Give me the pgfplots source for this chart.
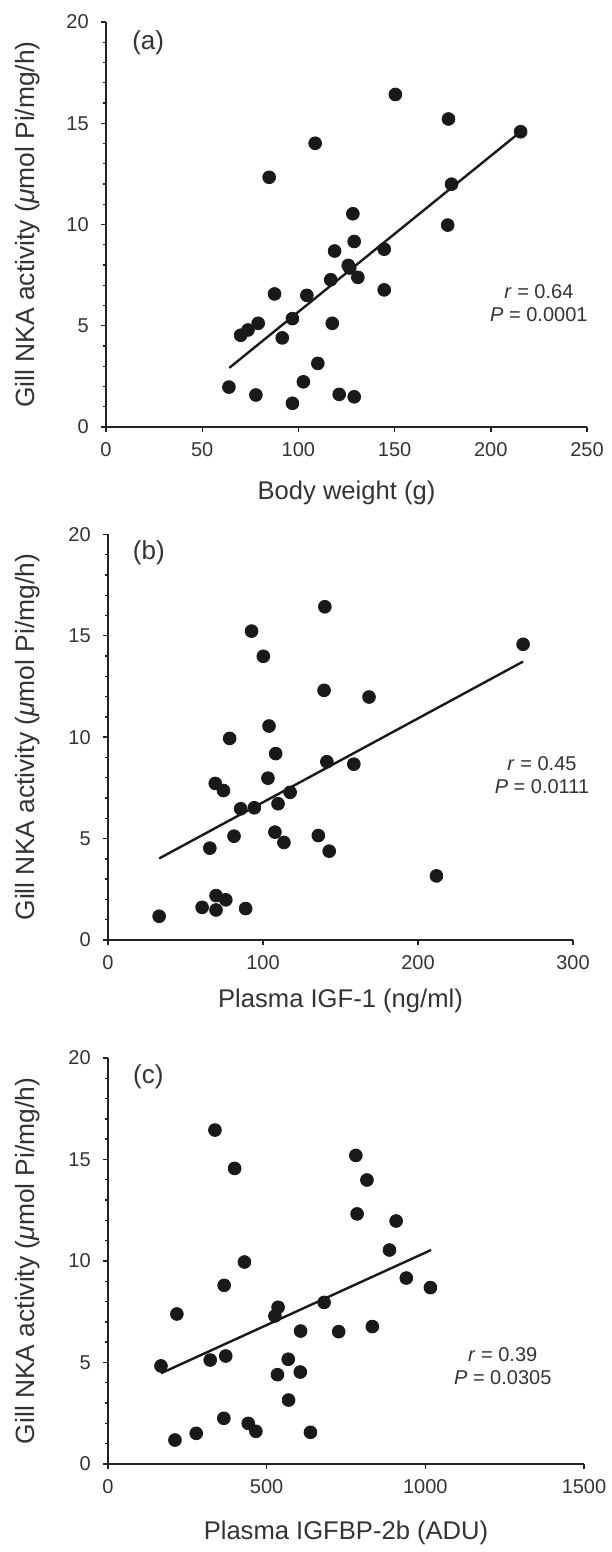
\documentclass[border=0pt]{standalone}
\usepackage{fontspec}
\setmainfont{Liberation Sans}
\usepackage{pgfplots}
\pgfplotsset{compat=1.18}
\definecolor{txt}{HTML}{333333}
\definecolor{ax}{HTML}{222222}
\pgfplotsset{
  panel/.style={
    scale only axis,
    axis lines*=left,
    axis line style={ax, line width=0.7pt},
    tick align=outside,
    major tick length=2.6pt,
    minor tick length=1.7pt,
    every tick/.style={ax, line width=0.7pt},
    ymin=0, ymax=20,
    ytick={0,5,10,15,20},
    minor y tick num=4,
    /pgf/number format/assume math mode=true,
    /pgf/number format/1000 sep={},
    tick label style={font=\fontsize{10}{12}\selectfont, text=txt},
    xticklabel style={yshift=-1.5pt},
    yticklabel style={xshift=-2.5pt},
    ylabel={Gill NKA activity (\textit{μ}mol Pi/mg/h)},
    clip=false,
  },
  dots/.style={only marks, mark=*, mark size=3.2pt, color=black!90},
  fit/.style={no marks, black!90, line width=1.2pt},
}
\begin{document}
\begin{tikzpicture}[x=1pt,y=1pt]
\useasboundingbox (0,0) rectangle (305.5,776);
% ---------- panel (a)
\begin{axis}[panel, at={(53pt,562.5pt)}, anchor=south west,
  width=240.5pt, height=202.5pt,
  xmin=0, xmax=250, xtick={0,50,100,150,200,250},
  xlabel={Body weight (g)},
  xlabel style={at={(axis description cs:0.5,0)}, anchor=center, yshift=-33pt, font=\fontsize{12.8}{15}\selectfont, text=txt},
  ylabel style={at={(axis description cs:-0.162,0.5)}, anchor=center, font=\fontsize{13.2}{15}\selectfont, text=txt},
]
\addplot[dots] coordinates {
(63.9,1.97) (70.0,4.53) (73.8,4.79) (79.1,5.12) (87.6,6.57) (84.8,12.33)
(77.9,1.58) (91.6,4.40) (96.9,5.35) (96.9,1.17) (102.6,2.23) (104.4,6.50)
(108.7,14.01) (110.1,3.14) (116.8,7.27) (117.6,5.12) (118.8,8.69) (121.2,1.61)
(125.9,7.98) (126.7,7.85) (130.9,7.39) (128.3,10.53) (129.0,9.16) (129.0,1.49)
(144.6,8.78) (144.6,6.77) (150.4,16.42) (177.6,9.97) (178.0,15.21) (179.6,11.99)
(215.5,14.58)
};
\addplot[fit] coordinates {(64.1,2.92) (215.1,14.55)};
\node[anchor=west, font=\fontsize{13}{15}\selectfont, text=txt] at (axis cs:10.0,18.96) {(a)};
\node[align=center, font=\fontsize{10}{11.5}\selectfont, text=txt] at (axis cs:225,6.1)
  {\textit{r} = 0.64\\\textit{P} = 0.0001};
\end{axis}
% ---------- panel (b)
\begin{axis}[panel, at={(54pt,306pt)}, anchor=south west,
  width=232.5pt, height=202.8pt,
  xmin=0, xmax=300, xtick={0,100,200,300},
  xlabel={Plasma IGF-1 (ng/ml)},
  xlabel style={at={(axis description cs:0.5,0)}, anchor=center, yshift=-30.5pt, font=\fontsize{12.8}{15}\selectfont, text=txt},
  ylabel style={at={(axis description cs:-0.173,0.5)}, anchor=center, font=\fontsize{13.2}{15}\selectfont, text=txt},
]
\addplot[dots] coordinates {
(33.0,1.17) (60.7,1.61) (69.7,1.48) (69.7,2.19) (76.0,1.98) (88.8,1.55)
(65.7,4.53) (81.3,5.12) (85.6,6.47) (94.4,6.52) (69.2,7.72) (74.5,7.37)
(78.5,9.94) (92.6,15.23) (100.2,13.99) (103.9,10.55) (103.2,7.98) (108.2,9.19)
(109.7,6.72) (107.7,5.32) (113.5,4.81) (117.5,7.28) (135.7,5.15) (142.7,4.38)
(139.4,12.31) (139.9,16.43) (141.2,8.79) (158.6,8.67) (168.4,11.98) (211.9,3.16)
(267.8,14.58)
};
\addplot[fit] coordinates {(33.0,4.02) (267.8,13.73)};
\node[anchor=west, font=\fontsize{13}{15}\selectfont, text=txt] at (axis cs:11.5,19.08) {(b)};
\node[align=center, font=\fontsize{10}{11.5}\selectfont, text=txt] at (axis cs:280,8.15)
  {\textit{r} = 0.45\\\textit{P} = 0.0111};
\end{axis}
% ---------- panel (c)
\begin{axis}[panel, at={(54pt,44pt)}, anchor=south west,
  width=238pt, height=203pt,
  xmin=0, xmax=1500, xtick={0,500,1000,1500},
  xlabel={Plasma IGFBP-2b (ADU)},
  xlabel style={at={(axis description cs:0.5,0)}, anchor=center, yshift=-34.5pt, font=\fontsize{12.8}{15}\selectfont, text=txt},
  ylabel style={at={(axis description cs:-0.169,0.5)}, anchor=center, font=\fontsize{13.2}{15}\selectfont, text=txt},
]
\addplot[dots] coordinates {
(167,4.83) (211,1.18) (217,7.39) (278,1.51) (322,5.12) (337,16.45)
(365,2.25) (366,8.80) (371,5.32) (399,14.56) (430,9.95) (442,2.00)
(466,1.61) (526,7.29) (536,7.72) (534,4.40) (568,5.16) (569,3.15)
(607,6.55) (606,4.53) (638,1.56) (681,7.96) (727,6.52) (781,15.20)
(785,12.32) (816,13.99) (833,6.77) (887,10.54) (908,11.97) (940,9.16)
(1016,8.69)
};
\addplot[fit] coordinates {(167,4.47) (1018,10.54)};
\node[anchor=west, font=\fontsize{13}{15}\selectfont, text=txt] at (axis cs:57,19.08) {(c)};
\node[align=center, font=\fontsize{10}{11.5}\selectfont, text=txt] at (axis cs:1244,4.83)
  {\textit{r} = 0.39\\\textit{P} = 0.0305};
\end{axis}
\end{tikzpicture}
\end{document}
